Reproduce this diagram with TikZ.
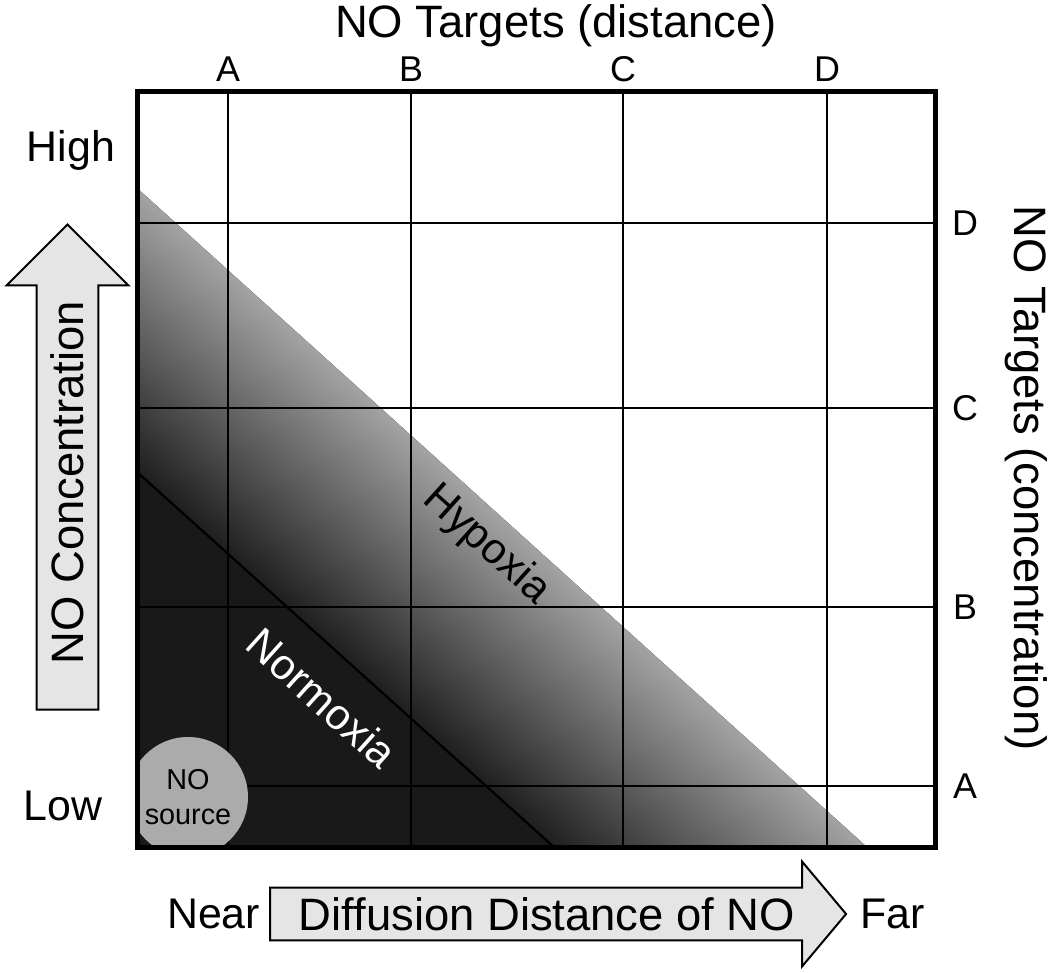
\documentclass[tikz,border=0pt]{standalone}
\usepackage{fontspec}
\setmainfont{Liberation Sans}
\usetikzlibrary{shapes.arrows,positioning}

\begin{document}
\begin{tikzpicture}[
    x=0.25mm, y=0.25mm,
    lbl/.style={font=\fontsize{30.5}{36}\selectfont},
    title/.style={font=\fontsize{32.3}{38}\selectfont},
    tick/.style={font=\fontsize{25.5}{30}\selectfont},
    gridline/.style={line width=0.55mm},
    frame/.style={line width=1.25mm},
    bigarrow/.style={single arrow, draw, line width=0.5mm, fill=black!10, title,
        text height=8.1mm, text depth=0mm, inner xsep=0mm, single arrow tip angle=90},
    zone/.style={lbl, rotate=-42},
    src/.style={circle, fill=black!33, minimum size=30mm, inner sep=0mm, align=center,
        font=\fontsize{20.5}{25}\selectfont},
]
\useasboundingbox (0,0) rectangle (1050,973);

% shaded zones below the hypoxia edge
\begin{scope}
\clip (137,785) -- (868,125) -- (137,125) -- cycle;
\fill[black!90] (137,125) rectangle (868,785);
\begin{scope}[transform canvas={rotate around={-42:(137,501)}}]
\shade[overlay, bottom color=black!88, middle color=black!57, top color=black!36]
    (-70,501) rectangle (950,712);
\end{scope}
\end{scope}
\draw[gridline] (137,501) -- (555,125);

% target grid
\foreach \x/\l in {228/A,411/B,623/C,827/D} {
  \draw[gridline] (\x,125) -- (\x,881);
  \node[tick] (top\l) at (\x,904) {\l};
}
\foreach \y/\l in {187/A,366/B,565/C,750/D} {
  \draw[gridline] (137,\y) -- (935,\y);
  \node[tick] (side\l) at (965,\y) {\l};
}

% NO source
\begin{scope}
\clip (137,125) rectangle (935,881);
\node[src] (src) at (188,176) {NO\\source};
\end{scope}
\draw[frame] (137,125) rectangle (935,881);

\node[zone, text=white] (normo) at (322,275) {Normoxia};
\node[zone] (hypo) at (486,428) {Hypoxia};

% axis titles
\node[title] (toptitle) at (556,947) {NO Targets (distance)};
\node[title, rotate=-90] (sidetitle) at (1026,495) {NO Targets (concentration)};
\node[lbl] (high) at (71,823) {High};
\node[lbl] (low) at (63,167) {Low};

% big arrows
\node[bigarrow, rotate=90, inner ysep=3.4mm, minimum height=121.25mm,
    single arrow head extend=7.5mm] (conc) at (67.5,490.5) {NO Concentration};
\node[bigarrow, inner ysep=2.3mm, minimum height=144mm, single arrow head extend=6.5mm,
    single arrow tip angle=100] (dist) at (547,59) {Diffusion Distance of NO};
\node[lbl, left=1mm of dist.tail] (near) {Near};
\node[lbl, right=2mm of dist.tip] (far) {Far};
\end{tikzpicture}
\end{document}
